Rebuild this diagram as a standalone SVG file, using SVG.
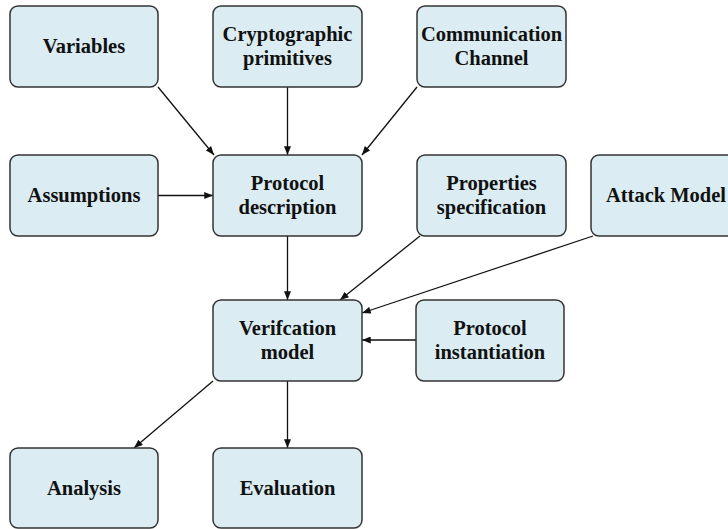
<svg xmlns="http://www.w3.org/2000/svg" width="728" height="529" viewBox="0 0 728 529">
  <style>
    .box { fill: #dbedf3; stroke: #333333; stroke-width: 1.5; }
    .label { font-family: "Liberation Serif", "Times New Roman", serif; font-weight: bold; font-size: 20.5px; fill: #111111; text-anchor: middle; }
    .edge { stroke: #111111; stroke-width: 1.3; fill: none; marker-end: url(#arrow); }
  </style>
  <defs>
    <marker id="arrow" viewBox="0 0 10 8" refX="10" refY="4" markerWidth="9" markerHeight="7" markerUnits="userSpaceOnUse" orient="auto">
      <path d="M0,0 L10,4 L0,8 z" fill="#111111"/>
    </marker>
  </defs>
  <rect width="728" height="529" fill="#ffffff"/>

  <g id="connectors">
    <line class="edge" x1="158" y1="87" x2="214" y2="155"/>
    <line class="edge" x1="287.5" y1="87" x2="287.5" y2="155"/>
    <line class="edge" x1="417" y1="87" x2="362" y2="155"/>
    <line class="edge" x1="158" y1="195.5" x2="213" y2="195.5"/>
    <line class="edge" x1="287.5" y1="236" x2="287.5" y2="300"/>
    <line class="edge" x1="420" y1="236" x2="340" y2="300"/>
    <line class="edge" x1="593" y1="236" x2="362" y2="313"/>
    <line class="edge" x1="416" y1="340" x2="362" y2="340"/>
    <line class="edge" x1="213" y1="381" x2="134" y2="448"/>
    <line class="edge" x1="287.5" y1="381" x2="287.5" y2="448"/>
  </g>

  <g id="variables">
    <rect class="box" x="10" y="6" width="148" height="81" rx="8"/>
    <text class="label" x="84" y="53">Variables</text>
  </g>
  <g id="cryptographic-primitives">
    <rect class="box" x="213" y="6" width="149" height="81" rx="8"/>
    <text class="label" x="287.5" y="41">Cryptographic</text>
    <text class="label" x="287.5" y="65">primitives</text>
  </g>
  <g id="communication-channel">
    <rect class="box" x="417" y="6" width="149" height="81" rx="8"/>
    <text class="label" x="491.5" y="41">Communication</text>
    <text class="label" x="491.5" y="65">Channel</text>
  </g>
  <g id="assumptions">
    <rect class="box" x="10" y="155" width="148" height="81" rx="8"/>
    <text class="label" x="84" y="202">Assumptions</text>
  </g>
  <g id="protocol-description">
    <rect class="box" x="213" y="155" width="149" height="81" rx="8"/>
    <text class="label" x="287.5" y="190">Protocol</text>
    <text class="label" x="287.5" y="214">description</text>
  </g>
  <g id="properties-specification">
    <rect class="box" x="417" y="155" width="149" height="81" rx="8"/>
    <text class="label" x="491.5" y="190">Properties</text>
    <text class="label" x="491.5" y="214">specification</text>
  </g>
  <g id="attack-model">
    <rect class="box" x="591" y="155" width="150" height="81" rx="8"/>
    <text class="label" x="666" y="202">Attack Model</text>
  </g>
  <g id="verification-model">
    <rect class="box" x="213" y="300" width="149" height="81" rx="8"/>
    <text class="label" x="287.5" y="335">Verifcation</text>
    <text class="label" x="287.5" y="359">model</text>
  </g>
  <g id="protocol-instantiation">
    <rect class="box" x="416" y="300" width="148" height="81" rx="8"/>
    <text class="label" x="490" y="335">Protocol</text>
    <text class="label" x="490" y="359">instantiation</text>
  </g>
  <g id="analysis">
    <rect class="box" x="10" y="448" width="148" height="80" rx="8"/>
    <text class="label" x="84" y="495">Analysis</text>
  </g>
  <g id="evaluation">
    <rect class="box" x="213" y="448" width="149" height="80" rx="8"/>
    <text class="label" x="287.5" y="495">Evaluation</text>
  </g>
</svg>
